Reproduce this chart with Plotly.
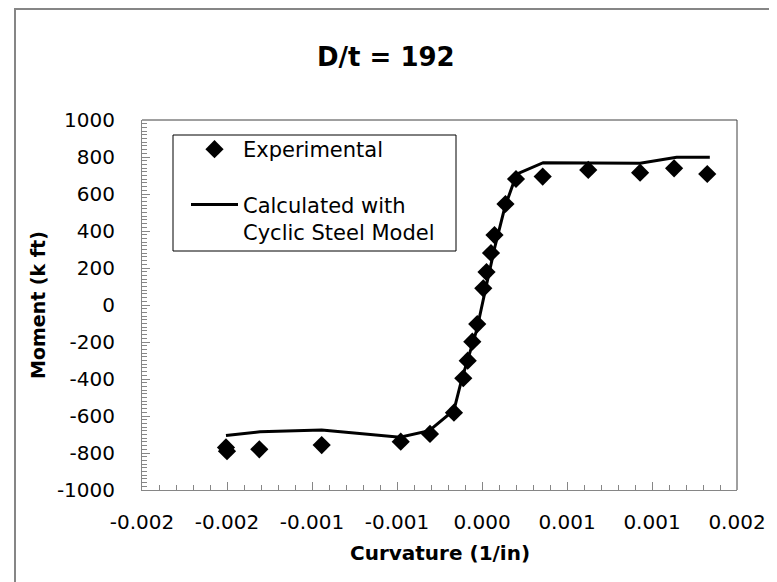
import plotly.graph_objects as go

# 试验数据 (curvature 1/in, moment k ft)
exp_curv = [-0.001506, -0.001500, -0.00131, -0.000943, -0.000478, -0.000306, -0.000165,
            -0.00011, -0.000084, -0.000057, -0.000028, 0.0000076, 0.0000265, 0.000053,
            0.0000735, 0.000138, 0.0002, 0.000357, 0.000625, 0.00093, 0.00113, 0.001325]
exp_moment = [-770, -790, -780, -757, -739, -697, -582, -396, -301, -198, -103, 90, 178,
              281, 378, 546, 681, 694, 730, 715, 739, 708]

# 计算曲线
calc_curv = [-0.001506, -0.001306, -0.000943, -0.000482, -0.00031, -0.000165, -0.00012,
             -0.000031, 0.000024, 0.000076, 0.000135, 0.000204, 0.00036, 0.00093,
             0.001145, 0.00134]
calc_moment = [-706, -685, -676, -715, -679, -568, -405, -135, 99, 315, 531, 708, 769,
               766, 798, 798]

# 刻度 (Excel 三位小数显示)
x_tickvals = [-0.002, -0.0015, -0.001, -0.0005, 0.0, 0.0005, 0.001, 0.0015]
x_ticktext = ["-0.002", "-0.002", "-0.001", "-0.001", "0.000", "0.001", "0.001", "0.002"]
y_tickvals = [-1000, -800, -600, -400, -200, 0, 200, 400, 600, 800, 1000]
y_ticktext = [str(v) for v in y_tickvals]

FONT = "DejaVu Sans, sans-serif"
W, H = 777, 582
OFF = 8  # body 默认 margin
L, R, T, B = 142 - OFF, 777 - 737 + OFF, 120 - OFF, 582 - 490 + OFF
pw, ph = W - L - R, H - T - B


# 窗口像素 -> paper 坐标
def px(x):
    return (x - OFF - L) / pw


def py(y):
    return (H - B - (y - OFF)) / ph


fig = go.Figure()

fig.add_trace(go.Scatter(
    x=exp_curv, y=exp_moment, mode='markers', name='Experimental',
    marker=dict(symbol='diamond', size=14, color='black'),
    legendgroup='a'
))
fig.add_trace(go.Scatter(
    x=calc_curv, y=calc_moment, mode='lines', name='Calculated with<br>Cyclic Steel Model',
    line=dict(color='black', width=3),
    legendgroup='b'
))

fig.update_xaxes(
    range=[-0.002, 0.0015], tickvals=x_tickvals, ticktext=x_ticktext,
    ticks='inside', ticklen=8, tickcolor='#868686', tickwidth=1,
    minor=dict(ticks='inside', dtick=0.0001, tick0=-0.002, ticklen=5, tickcolor='#868686'),
    showline=True, linecolor='#868686', linewidth=1, showgrid=False, zeroline=False,
    tickfont=dict(family=FONT, size=20, color='black'), ticklabelstandoff=14
)
fig.update_yaxes(
    range=[-1000, 1000], tickvals=y_tickvals, ticktext=y_ticktext,
    ticks='inside', ticklen=8, tickcolor='#868686', tickwidth=1,
    minor=dict(ticks='inside', dtick=20, tick0=0, ticklen=5, tickcolor='#868686'),
    showline=True, linecolor='#868686', linewidth=1, showgrid=False, zeroline=False,
    tickfont=dict(family=FONT, size=20, color='black'), ticklabelstandoff=22
)

fig.update_layout(
    width=W, height=H,
    margin=dict(l=L, r=R, t=T, b=B),
    paper_bgcolor='white', plot_bgcolor='white',
    showlegend=True,
    legend=dict(
        x=px(186), y=py(129), xanchor='left', yanchor='top',
        borderwidth=0, bgcolor='rgba(0,0,0,0)',
        font=dict(family=FONT, size=21, color='black'),
        traceorder='grouped', tracegroupgap=25, itemwidth=47, valign='top'
    ),
    shapes=[
        # 图表外框
        dict(type='rect', xref='paper', yref='paper', x0=px(15), x1=px(770), y0=py(600), y1=py(9),
             line=dict(color='#868686', width=2), layer='below'),
        # 绘图区上、右边框
        dict(type='line', xref='paper', yref='paper', x0=0, x1=1, y0=1, y1=1,
             line=dict(color='#404040', width=1)),
        dict(type='line', xref='paper', yref='paper', x0=1, x1=1, y0=0, y1=1,
             line=dict(color='#404040', width=1)),
        # 图例边框
        dict(type='rect', xref='paper', yref='paper', x0=px(173), x1=px(456), y0=py(251), y1=py(135),
             line=dict(color='black', width=1), fillcolor='white', layer='above'),
    ],
    annotations=[
        dict(text='<b>D/t = 192</b>', x=px(386), y=py(57), xref='paper', yref='paper',
             xanchor='center', yanchor='middle',
             showarrow=False, font=dict(family=FONT, size=26, color='black')),
        dict(text='<b>Moment (k ft)</b>', x=px(38), y=py(305), xref='paper', yref='paper',
             xanchor='center', yanchor='middle',
             textangle=-90, showarrow=False, font=dict(family=FONT, size=19, color='black')),
        dict(text='<b>Curvature (1/in)</b>', x=px(440), y=py(553), xref='paper', yref='paper',
             xanchor='center', yanchor='middle',
             showarrow=False, font=dict(family=FONT, size=20, color='black')),
    ]
)

fig.write_html("out.html")
